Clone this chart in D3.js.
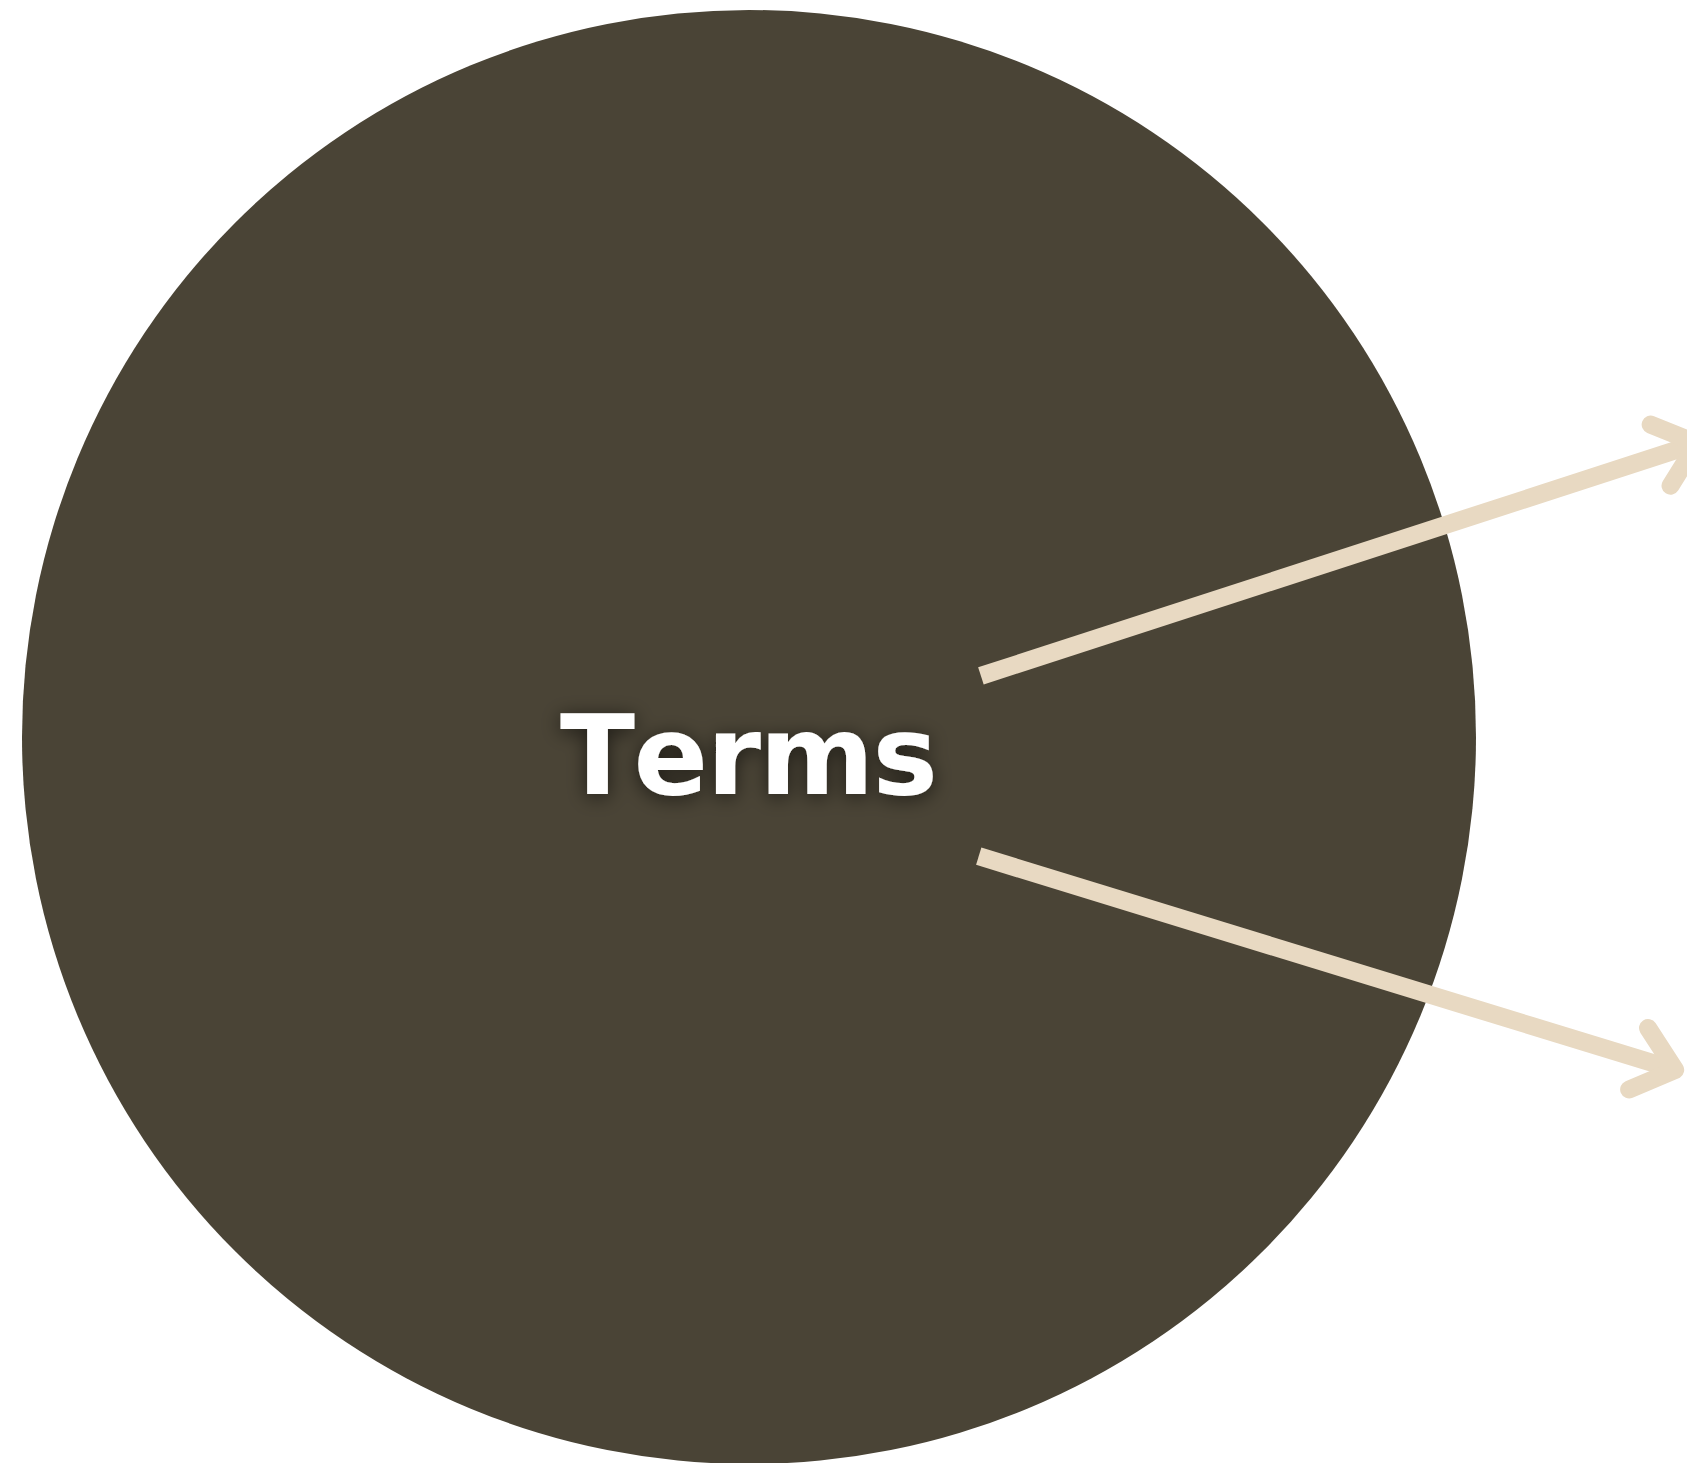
<!DOCTYPE html>
<html>
<head>
<meta charset="utf-8">
<script src="https://cdn.jsdelivr.net/npm/d3@7"></script>
<style>
  html, body { margin: 0; padding: 0; background: #fff; }
  svg { display: block; }
</style>
</head>
<body>
<svg></svg>
<script>
// diagram data, in units of the circle radius (centre = 0,0)
const labels = ["Terms"];
const arrowStarts = [[0.319, -0.084], [0.316, 0.164]];
const arrowTips = [[1.304, -0.404], [1.274, 0.458]];

const svg = d3.select('svg');
svg.attr("width", 1687).attr("height", 1463);

const x = d3.scaleLinear().domain([-1, 1]).range([22, 1476]);
const y = d3.scaleLinear().domain([-1, 1]).range([10, 1464]);

const defs = svg.append('defs');
const f = defs.append('filter').attr('id', 'shadow')
    .attr('x', '-30%').attr('y', '-60%').attr('width', '160%').attr('height', '220%');
f.append('feDropShadow').attr('dx', 0).attr('dy', 3).attr('stdDeviation', 10)
    .attr('flood-color', '#000').attr('flood-opacity', 0.6);

svg.append('circle')
    .attr('cx', x(0)).attr('cy', y(0))
    .attr('r', x(1) - x(0))
    .attr('fill', '#4a4436');

const arrows = arrowStarts.map((s, i) => ({ s, t: arrowTips[i] }));

const headLen = 50, headAng = 40 * Math.PI / 180;
const g = svg.append('g');
arrows.forEach(a => {
    const x0 = x(a.s[0]), y0 = y(a.s[1]), x1 = x(a.t[0]), y1 = y(a.t[1]);
    const ang = Math.atan2(y0 - y1, x0 - x1);
    g.append('line')
        .attr('x1', x0).attr('y1', y0).attr('x2', x1).attr('y2', y1)
        .attr('stroke', '#e8d9c2').attr('stroke-width', 18);
    const p1 = [x1 + headLen * Math.cos(ang + headAng), y1 + headLen * Math.sin(ang + headAng)];
    const p2 = [x1 + headLen * Math.cos(ang - headAng), y1 + headLen * Math.sin(ang - headAng)];
    g.append('path')
        .attr('d', d3.line()([p1, [x1, y1], p2]))
        .attr('fill', 'none')
        .attr('stroke', '#e8d9c2').attr('stroke-width', 18)
        .attr('stroke-linecap', 'round').attr('stroke-linejoin', 'round');
});

const txt = svg.selectAll('text.label').data(labels).enter().append('text')
    .attr('class', 'label')
    .attr('x', x(0)).attr('y', 794)
    .attr('text-anchor', 'middle')
    .attr('font-family', 'DejaVu Sans')
    .attr('font-weight', 'bold')
    .attr('font-size', 110)
    .style('font-kerning', 'none')
    .attr('fill', '#fff')
    .attr('filter', 'url(#shadow)')
    .text(d => d);

// stretch letter spacing to the width seen in the picture
txt.each(function () {
    const w = this.getComputedTextLength();
    const n = this.textContent.length;
    const ls = (378 - w) / (n - 1);
    d3.select(this).attr('letter-spacing', ls).attr('x', x(0) + ls / 2);
});
</script>
</body>
</html>
